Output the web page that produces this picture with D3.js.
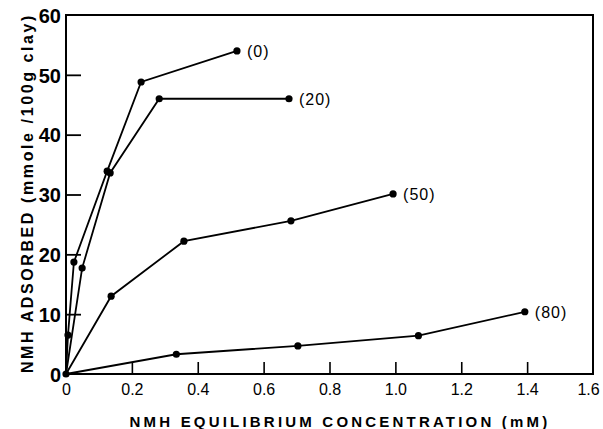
<!DOCTYPE html>
<html><head><meta charset="utf-8">
<script src="https://cdn.jsdelivr.net/npm/d3@7"></script>
<style>
html,body{margin:0;padding:0;background:#fff;}
svg{display:block;}
text{font-family:"Liberation Sans",Arial,sans-serif;fill:#000;}
</style></head>
<body>
<svg id="chart" width="603" height="429"></svg>
<script>
// Data (NMH equilibrium concentration, mM ; NMH adsorbed, mmole/100 g clay)
const seriesNames = ["(0)", "(20)", "(50)", "(80)"];
const s0x = [0, 0.006, 0.024, 0.125, 0.228, 0.519];
const s0y = [0, 6.5, 18.7, 33.9, 48.8, 54.0];
const s20x = [0, 0.049, 0.134, 0.283, 0.677];
const s20y = [0, 17.7, 33.6, 46.0, 46.0];
const s50x = [0, 0.137, 0.358, 0.683, 0.993];
const s50y = [0, 13.0, 22.2, 25.6, 30.1];
const s80x = [0, 0.335, 0.704, 1.07, 1.393];
const s80y = [0, 3.3, 4.7, 6.4, 10.4];
const xTicks = [0, 0.2, 0.4, 0.6, 0.8, 1.0, 1.2, 1.4, 1.6];
const xTickLabels = ["0", "0.2", "0.4", "0.6", "0.8", "1.0", "1.2", "1.4", "1.6"];
const yTicks = [0, 10, 20, 30, 40, 50, 60];
const xTitle = "NMH EQUILIBRIUM CONCENTRATION (mM)";
const yTitle = "NMH ADSORBED (mmole /100g clay)";

const series = [
  {name: seriesNames[0], xs: s0x, ys: s0y},
  {name: seriesNames[1], xs: s20x, ys: s20y},
  {name: seriesNames[2], xs: s50x, ys: s50y},
  {name: seriesNames[3], xs: s80x, ys: s80y}
].map(s => ({name: s.name, pts: s.xs.map((x, i) => [x, s.ys[i]])}));

const L = 66, R = 593, T = 15, B = 374;
const svg = d3.select("#chart");
const x = d3.scaleLinear().domain([0, 1.6]).range([L, R]);
const y = d3.scaleLinear().domain([0, 60]).range([B, T]);

// frame
svg.append("rect").attr("x", L).attr("y", T).attr("width", R - L).attr("height", B - T)
  .attr("fill", "none").attr("stroke", "#000").attr("stroke-width", 2);

// x axis: inward ticks
const xAxis = d3.axisBottom(x).tickValues(xTicks).tickSize(-12).tickPadding(16)
  .tickFormat((d, i) => xTickLabels[i]);
const gx = svg.append("g").attr("transform", `translate(0,${B})`).call(xAxis);
gx.select(".domain").remove();
gx.selectAll(".tick line").attr("stroke", "#000").attr("stroke-width", 1.6);
gx.selectAll(".tick").filter(d => d === 0 || d === 1.6).select("line").remove();
gx.selectAll(".tick text").attr("font-size", 16).attr("font-family", "'DejaVu Sans', sans-serif")
  .attr("font-weight", 300).attr("dy", "0.3em");
gx.selectAll(".tick").filter(d => d === 1.6).select("text").attr("dx", -5);

// y axis: inward ticks
const yAxis = d3.axisLeft(y).tickValues(yTicks).tickSize(-15).tickPadding(5);
const gy = svg.append("g").attr("transform", `translate(${L},0)`).call(yAxis);
gy.select(".domain").remove();
gy.selectAll(".tick line").attr("stroke", "#000").attr("stroke-width", 1.8);
gy.selectAll(".tick").filter(d => d === 0 || d === 60).select("line").remove();
gy.selectAll(".tick text").attr("font-size", 20).attr("font-weight", "bold")
  .attr("font-family", "'Liberation Sans', Arial, sans-serif").attr("dy", "0.36em");

// lines
const line = d3.line().x(d => x(d[0])).y(d => y(d[1]));
series.forEach(s => {
  svg.append("path").datum(s.pts).attr("d", line)
    .attr("fill", "none").attr("stroke", "#000").attr("stroke-width", 1.8);
  svg.selectAll(null).data(s.pts.slice(1)).enter().append("circle")
    .attr("cx", d => x(d[0])).attr("cy", d => y(d[1])).attr("r", 3.6).attr("fill", "#000");
  const last = s.pts[s.pts.length - 1];
  svg.append("text").attr("x", x(last[0]) + 10).attr("y", y(last[1]))
    .attr("dy", "0.36em").attr("font-size", 16).attr("font-family", "'DejaVu Sans', sans-serif")
    .attr("letter-spacing", "1px").text(s.name);
});
// origin marker
svg.append("circle").attr("cx", x(0)).attr("cy", y(0)).attr("r", 3.6).attr("fill", "#000");

// titles
svg.append("text").attr("x", (132 + 548) / 2).attr("y", 427).attr("text-anchor", "middle")
  .attr("font-size", 15).attr("font-weight", "bold").attr("letter-spacing", "3.2px").text(xTitle);
svg.append("text").attr("transform", `translate(33,${(13 + 373) / 2}) rotate(-90)`)
  .attr("text-anchor", "middle").attr("font-size", 16).attr("font-weight", "bold")
  .attr("letter-spacing", "2.6px").text(yTitle);
</script>
</body></html>
